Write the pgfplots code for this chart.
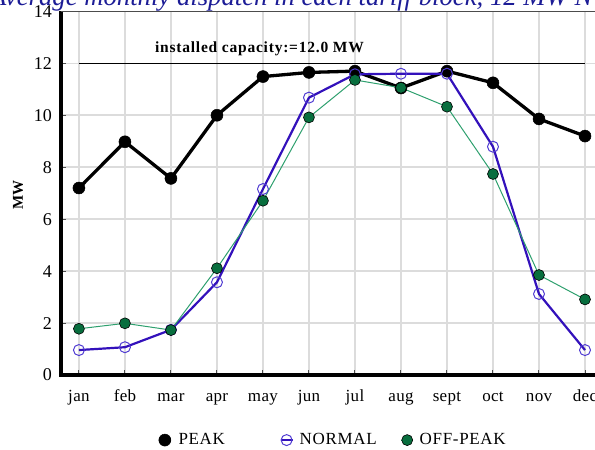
\documentclass[border=0pt]{standalone}
\usepackage{pgfplots}
\pgfplotsset{compat=1.18}
\usepackage{fontspec}
\setmainfont{Liberation Serif}
\newfontfamily\wide[LetterSpace=2]{Liberation Serif}
\newfontfamily\legf[LetterSpace=4]{Liberation Serif}
\newfontfamily\wider[LetterSpace=5]{Liberation Serif}
\definecolor{normline}{RGB}{51,17,187}
\definecolor{normmark}{RGB}{80,60,210}
\definecolor{offline}{RGB}{46,160,110}
\definecolor{offfill}{RGB}{8,110,62}
\definecolor{gridc}{RGB}{220,220,220}
\definecolor{titlec}{RGB}{28,28,150}
\begin{document}
\begin{tikzpicture}
\useasboundingbox (0,0) rectangle (595bp,450bp);
\clip (0,0) rectangle (595bp,450bp);
\node[anchor=base east, inner sep=0pt, text=titlec, font=\itshape\fontsize{26.7bp}{30bp}\selectfont] at (592.5bp,444bp) {Average monthly dispatch in each tariff block, 12 MW N};
\node[rotate=90, inner sep=0pt, font=\wide\bfseries\fontsize{15bp}{17bp}\selectfont] at (18bp,255bp) {MW};
\begin{axis}[
 at={(61bp,75bp)}, anchor=south west, scale only axis, width=542.4bp, height=363.6bp,
 xmin=-0.39, xmax=11.4, ymin=0, ymax=14,
 xtick={0,...,11}, xticklabels={jan,feb,mar,apr,may,jun,jul,aug,sept,oct,nov,dec},
 ytick={0,2,...,14},
 grid=major, major grid style={gridc, line width=1.6bp},
 axis line style={draw=none},
 tick align=inside, tick pos=left,
 major tick length=5bp, tick style={black!70, line width=1bp},
 xticklabel style={font=\wide\fontsize{17bp}{19bp}\selectfont, anchor=base, inner sep=0pt, yshift=-26bp},
 yticklabel style={font=\fontsize{18bp}{20bp}\selectfont, anchor=east, inner sep=0pt, xshift=-9bp},
 /pgf/number format/assume math mode=true,
 clip=false,
 legend columns=3,
 legend style={at={(0.177,-0.179)}, anchor=west, draw=none, fill=none, inner sep=0pt, nodes={inner sep=0pt}, font=\legf\fontsize{17bp}{19bp}\selectfont},
 legend image code/.code={\draw[mark repeat=2, mark phase=2, #1] plot coordinates {(-6bp,0bp) (0bp,0bp) (6bp,0bp)};},
]
\addplot[black, line width=1.2bp, forget plot] coordinates {(0,12) (11,12)};
\addplot[black, line width=3.3bp, line join=round, mark=*, mark size=6bp, mark options={fill=black, line width=0.5bp}] coordinates {
(0,7.2) (1,8.98) (2,7.57) (3,10.0) (4,11.49) (5,11.65) (6,11.7) (7,11.05) (8,11.7) (9,11.25) (10,9.86) (11,9.2)};
\addlegendentry{\makebox[107bp][l]{\hspace{6bp}PEAK}}
\addplot[normline, line width=2.2bp, line join=round, mark=o, mark size=5.5bp, mark options={draw=normmark, fill=none, line width=1bp}] coordinates {
(0,0.96) (1,1.07) (2,1.74) (3,3.57) (4,7.16) (5,10.68) (6,11.58) (7,11.6) (8,11.6) (9,8.79) (10,3.12) (11,0.96)};
\addlegendentry{\makebox[107bp][l]{\hspace{6bp}NORMAL}}
\addplot[offline, line width=1bp, line join=round, mark=*, mark size=5.5bp, mark options={draw=black, fill=offfill, line width=0.6bp}] coordinates {
(0,1.78) (1,1.99) (2,1.73) (3,4.11) (4,6.71) (5,9.92) (6,11.36) (7,11.06) (8,10.33) (9,7.74) (10,3.85) (11,2.91)};
\addlegendentry{\makebox[107bp][l]{\hspace{6bp}OFF-PEAK}}
\draw[black, line width=3bp] (rel axis cs:0,1) -- (rel axis cs:0,0) -- (rel axis cs:1,0);
\draw[black!70, line width=1.5bp] (rel axis cs:0,1) -- (rel axis cs:1,1);
\node[anchor=base west, inner sep=0pt, font=\wider\bfseries\fontsize{15.5bp}{17bp}\selectfont] at (axis cs:1.652,12.4) {installed capacity:=12.0 MW};
\end{axis}
\end{tikzpicture}
\end{document}
